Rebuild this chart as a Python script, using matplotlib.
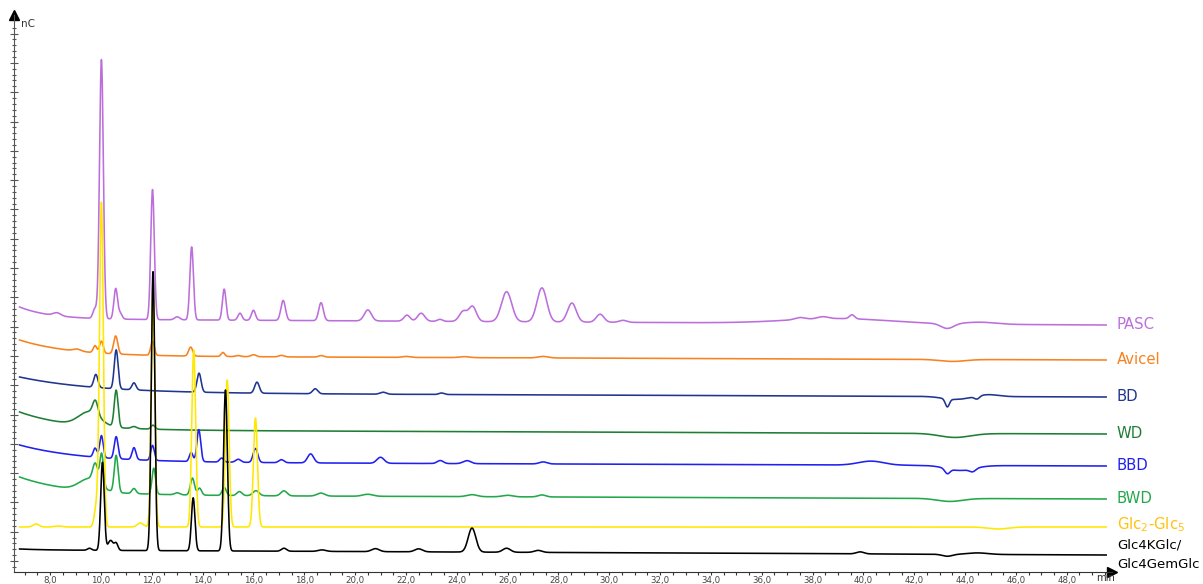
import numpy as np
import matplotlib
matplotlib.use("Agg")
import matplotlib.pyplot as plt
from matplotlib.ticker import FixedLocator, MultipleLocator, FuncFormatter

plt.rcParams['font.family'] = ['DejaVu Sans']
plt.rcParams['mathtext.default'] = 'regular'

# run window (min)
t_start, t_end = 6.8, 49.55

# traces, top to bottom
names = ["PASC", "Avicel", "BD", "WD", "BBD", "BWD",
         "Glc$_2$-Glc$_5$", "Glc4KGlc/\nGlc4GemGlc"]
line_colors = ["#BC6FDC", "#F7821E", "#1F3590", "#1E7E34",
               "#2020F0", "#22A84A", "#FFE800", "#000000"]
label_colors = ["#BC6FDC", "#F7821E", "#1F3590", "#1E7E34",
                "#2020F0", "#22A84A", "#FFC20E", "#000000"]

# baseline of each trace: level at end of run, linear tilt, early hump, decay
levels = [247, 212, 175, 138, 106, 73, 45, 17]
tilts = [6, 4, 4, 4, 4, 4, 0, 5]
humps = [12, 16, 16, 18, 17, 18, 0, 1]
taus = [1.2, 2.0, 3.0, 2.0, 2.5, 2.0, 1.0, 1.0]

# peak tables: (retention time, height, sigma)
pasc_peaks = [(8.27, 3, 0.15), (9.77, 10, 0.08), (10.02, 259, 0.075), (10.58, 30, 0.07),
              (10.75, 6, 0.08), (12.03, 130, 0.07), (13.0, 3, 0.1), (13.57, 73, 0.07),
              (14.85, 31, 0.07), (15.47, 7, 0.08), (16.0, 10, 0.08), (17.17, 20, 0.09),
              (18.66, 18, 0.09), (20.5, 11, 0.14), (22.04, 6, 0.12), (22.6, 8, 0.14),
              (23.34, 2, 0.1), (24.25, 10, 0.15), (24.62, 15, 0.15), (25.96, 30, 0.2),
              (27.35, 34, 0.19), (28.53, 19, 0.17), (29.64, 8, 0.15), (30.54, 2, 0.15),
              (37.5, 2, 0.2), (38.4, 2, 0.2), (39.0, 5, 2.0), (39.55, 4, 0.1),
              (43.3, -5, 0.25), (44.6, 2, 0.6)]
avicel_peaks = [(9.06, 2, 0.15), (9.77, 7, 0.07), (10.02, 12, 0.07), (10.58, 18, 0.08),
                (12.03, 14, 0.07), (13.53, 9, 0.08), (14.8, 4, 0.07), (15.4, 1, 0.1),
                (16.0, 2, 0.1), (17.1, 1.5, 0.1), (18.66, 1.5, 0.1), (22.0, 1, 0.15),
                (24.3, 1, 0.2), (27.4, 1.5, 0.2), (43.5, -2, 0.5)]
bd_peaks = [(9.8, 13, 0.08), (10.6, 39, 0.075), (11.3, 7, 0.08), (13.86, 19, 0.08),
            (16.14, 11, 0.09), (18.43, 5, 0.1), (21.1, 2, 0.12), (23.4, 1.5, 0.1),
            (43.3, -8, 0.08), (43.6, -3, 0.5), (44.47, -3, 0.1), (44.9, 2, 0.4)]
wd_peaks = [(9.55, 14, 0.42), (9.78, 14, 0.1), (10.6, 37, 0.075), (11.3, 2, 0.1),
            (12.05, 4, 0.08), (43.6, -4, 0.6)]
bbd_peaks = [(9.77, 9, 0.07), (10.02, 22, 0.07), (10.6, 22, 0.075), (11.3, 12, 0.075),
             (12.03, 15, 0.07), (13.55, 9, 0.07), (13.85, 32, 0.075), (14.75, 4, 0.08),
             (15.4, 3, 0.1), (16.08, 14, 0.09), (17.1, 3, 0.1), (18.25, 9, 0.12),
             (21.0, 6, 0.14), (23.35, 3, 0.12), (24.4, 3, 0.15), (27.4, 2, 0.15),
             (40.3, 4, 0.5), (43.3, -5, 0.1), (43.8, -5, 0.55), (44.3, -3, 0.12)]
bwd_peaks = [(9.55, 12, 0.4), (9.78, 18, 0.1), (10.03, 32, 0.07), (10.6, 37, 0.075),
             (11.3, 5, 0.08), (12.08, 26, 0.07), (13.0, 2, 0.1), (13.6, 17, 0.08),
             (13.88, 7, 0.08), (14.85, 8, 0.08), (15.45, 4, 0.1), (16.1, 5, 0.12),
             (17.2, 5, 0.12), (18.65, 3, 0.15), (20.5, 2, 0.2), (24.6, 2, 0.2),
             (26.0, 1.5, 0.2), (27.35, 2, 0.15), (43.4, -3, 0.5)]
glc_peaks = [(7.45, 3, 0.12), (8.3, 1, 0.15), (9.82, 20, 0.08), (10.02, 324, 0.075),
             (11.55, 4, 0.12), (12.05, 240, 0.07), (13.65, 177, 0.075), (14.97, 147, 0.075),
             (16.08, 109, 0.08), (45.3, -2, 0.4)]
glc4_peaks = [(9.55, 2, 0.08), (10.06, 88, 0.07), (10.38, 10, 0.1), (10.6, 7, 0.07),
              (12.05, 279, 0.07), (13.63, 53, 0.07), (14.9, 161, 0.075), (17.2, 3, 0.1),
              (18.7, 1.5, 0.15), (20.8, 3, 0.15), (22.5, 3, 0.15), (24.6, 24, 0.15),
              (25.96, 4, 0.15), (27.2, 2, 0.15), (39.87, 2, 0.15), (43.3, -2, 0.2),
              (44.5, 1.5, 0.4)]

peak_tables = [pasc_peaks, avicel_peaks, bd_peaks, wd_peaks,
               bbd_peaks, bwd_peaks, glc_peaks, glc4_peaks]


def trace(t, level, tilt, hump, tau, peaks):
    y = level + tilt * (t_end - t) / (t_end - t_start) + hump * np.exp(-(t - t_start) / tau)
    for rt, h, s in peaks:
        y = y + h * np.exp(-0.5 * ((t - rt) / s) ** 2)
    return y


t = np.linspace(t_start, t_end, 6000)

fig = plt.figure(figsize=(12.03, 5.84), dpi=100)
ax = fig.add_axes([14 / 1203, 12 / 584, 1098 / 1203, 557 / 584])

for i in range(len(names)):
    y = trace(t, levels[i], tilts[i], humps[i], taus[i], peak_tables[i])
    ax.plot(t, y, color=line_colors[i], lw=1.15, zorder=2 + i)
    ax.text(49.97, y[-1] + (2 if i == 6 else 0), names[i], color=label_colors[i],
            fontsize=10.7 if i < 7 else 9.5, va='center', ha='left', clip_on=False,
            linespacing=1.6)

ax.set_xlim(6.58, 49.78)
ax.set_ylim(0, 557)

for s in ['top', 'right']:
    ax.spines[s].set_visible(False)
ax.spines['left'].set_color('#555555')
ax.spines['bottom'].set_color('#333333')

ax.xaxis.set_major_locator(MultipleLocator(2))
ax.xaxis.set_minor_locator(MultipleLocator(0.5))
ax.xaxis.set_major_formatter(FuncFormatter(lambda v, p: f"{v:.1f}".replace('.', ',')
                                           if 7.5 < v < 49 else ""))
ax.tick_params(axis='x', which='both', length=2.5, width=0.8, color='#333333',
               labelsize=6.2, labelcolor='#444444', pad=0.3)

ax.yaxis.set_major_locator(FixedLocator(np.arange(11, 550, 29.3)))
ax.yaxis.set_minor_locator(FixedLocator(np.arange(11 - 29.3, 550, 29.3 / 5)))
ax.tick_params(axis='y', which='major', direction='inout', length=6, width=0.8,
               color='#555555', labelleft=False)
ax.tick_params(axis='y', which='minor', direction='inout', length=3, width=0.8,
               color='#555555')

ax.plot(1, 0, '>', color='black', ms=7, transform=ax.transAxes, clip_on=False)
ax.plot(0, 1, '^', color='black', ms=7, transform=ax.transAxes, clip_on=False)
ax.text(21 / 1203, 1 - 24 / 584, "nC", transform=fig.transFigure, fontsize=7.5,
        color='#333333', va='center', ha='left')
ax.text(1106 / 1203, 1 - 578 / 584, "min", transform=fig.transFigure, fontsize=7.2,
        color='#333333', va='center', ha='center')

fig.savefig("out.png", dpi=100)
